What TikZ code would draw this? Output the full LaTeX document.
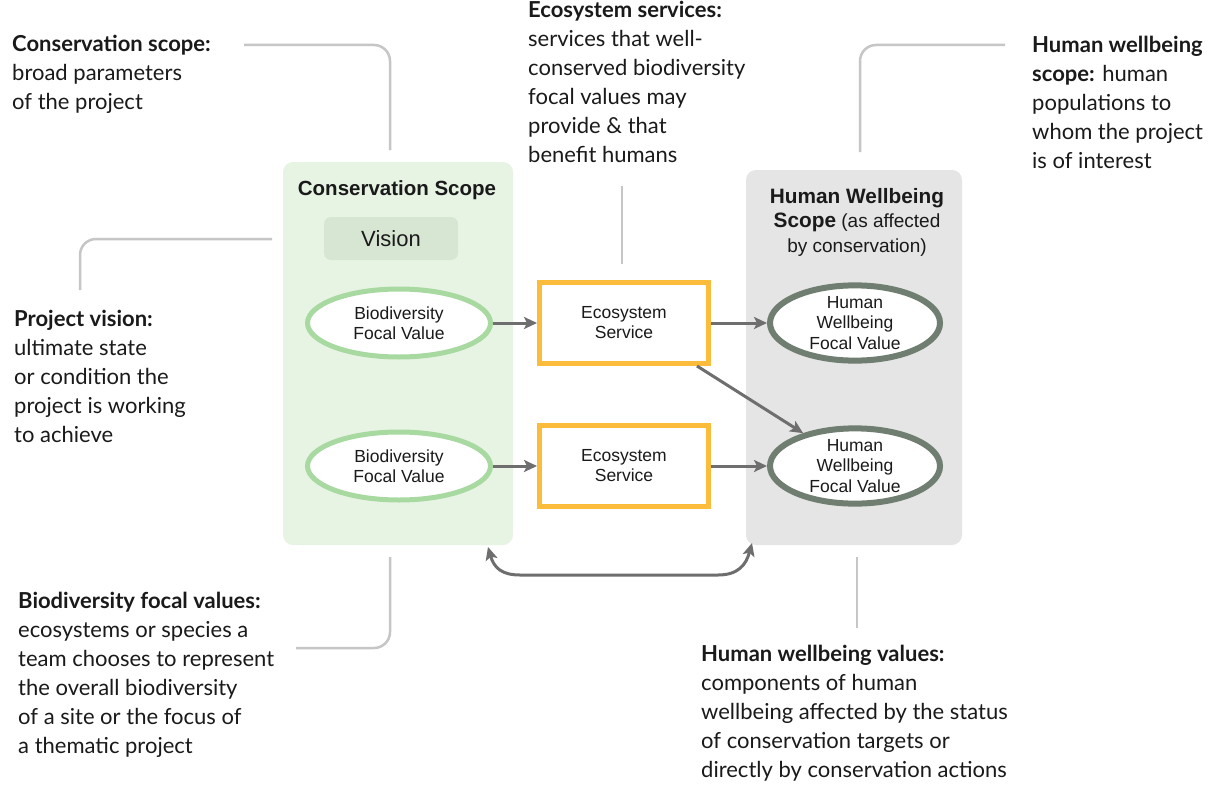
\documentclass[tikz,border=0pt]{standalone}
\usepackage{fontspec}
\setmainfont{Lato}
\newfontfamily\diagfont{Liberation Sans}
\usetikzlibrary{arrows.meta,shapes.geometric}

\definecolor{greenfill}{HTML}{E7F4E3}
\definecolor{visionfill}{HTML}{D7E6D3}
\definecolor{greenline}{HTML}{A8D9A1}
\definecolor{orangeline}{HTML}{FBBC3C}
\definecolor{hwline}{HTML}{6F7E70}
\definecolor{grayfill}{HTML}{E5E5E5}
\definecolor{arrowgray}{HTML}{6E6E6E}
\definecolor{leadergray}{HTML}{C6C6C6}
\definecolor{textdark}{HTML}{1A1A1A}

\begin{document}
\begin{tikzpicture}[x=1pt,y=-1pt,
  annot/.style={anchor=base west, inner sep=0pt, align=left, text=textdark,
    font=\fontsize{22}{29}\selectfont},
  leader/.style={draw=leadergray, line width=2.5pt, rounded corners=16pt},
  scopebox/.style={rounded corners=10pt, draw=none, inner sep=0pt},
  bfv/.style={ellipse, draw=greenline, line width=5pt, fill=white,
    minimum width=183pt, minimum height=68pt, inner sep=0pt, align=center,
    text=textdark, font=\diagfont\fontsize{17.5}{20}\selectfont},
  hwv/.style={ellipse, draw=hwline, line width=6pt, fill=white,
    minimum width=170pt, minimum height=75pt, inner sep=0pt, align=center,
    text=textdark, font=\diagfont\fontsize{17.5}{20.5}\selectfont},
  esbox/.style={rectangle, draw=orangeline, line width=5pt, fill=white,
    minimum width=169pt, minimum height=81pt, inner sep=0pt, align=center,
    text=textdark, font=\diagfont\fontsize{17.5}{20}\selectfont},
  arr/.style={draw=arrowgray, line width=3pt,
    -{Stealth[length=13pt,width=12pt,inset=3pt]}},
  darr/.style={draw=arrowgray, line width=3pt,
    {Stealth[length=13pt,width=12pt,inset=3pt]}-{Stealth[length=13pt,width=12pt,inset=3pt]}},
]
\useasboundingbox (0,0) rectangle (1222,789);
\fill[white] (0,0) rectangle (1222,789);

% scope boxes
\node[scopebox, fill=greenfill, minimum width=230pt, minimum height=383pt] (cscope) at (398,353.5) {};
\node[scopebox, fill=grayfill, minimum width=216pt, minimum height=375pt] (hscope) at (854,357.5) {};

\node[text=textdark, font=\diagfont\bfseries\fontsize{20.5}{22}\selectfont, inner sep=0pt] (ctitle) at (397,190) {Conservation Scope};
\node[scopebox, rounded corners=7pt, fill=visionfill, minimum width=134pt, minimum height=43pt,
  text=textdark, font=\diagfont\fontsize{22}{24}\selectfont] (vision) at (391,238.5) {Vision};

\node[text=textdark, align=center, inner sep=0pt, font=\diagfont\fontsize{19}{24.5}\selectfont] (htitle) at (857,222)
  {{\bfseries\fontsize{20.8}{24.5}\selectfont Human Wellbeing}\\{\bfseries\fontsize{20.8}{24.5}\selectfont Scope} (as affected\\by conservation)};

% value nodes
\node[bfv] (bf1) at (399,323) {Biodiversity\\Focal Value};
\node[bfv] (bf2) at (399,466) {Biodiversity\\Focal Value};
\node[esbox] (es1) at (624,323) {Ecosystem\\Service};
\node[esbox] (es2) at (624,466) {Ecosystem\\Service};
\node[hwv] (hw1) at (855,323) {Human\\Wellbeing\\Focal Value};
\node[hwv] (hw2) at (855,466) {Human\\Wellbeing\\Focal Value};

% arrows
\draw[arr] (bf1) -- (es1);
\draw[arr] (bf2) -- (es2);
\draw[arr] (es1) -- (hw1);
\draw[arr] (es2) -- (hw2);
\draw[arr] ([xshift=-14pt]es1.south east) -- (hw2);

\coordinate (bl) at (488,547);
\coordinate (br) at (752,543);
\draw[darr] (bl) .. controls (494,568) and (502,575) .. (520,575) -- (718,575) .. controls (738,575) and (746,565) .. (br);

% annotations (base anchor = baseline of last line)
\node[annot] (a1) at (12,110) {\textbf{Conservation scope:}\\broad parameters\\of the project};
\node[annot] (a2) at (528,162) {\textbf{Ecosystem services:}\\services that well-\\conserved biodiversity\\focal values may\\provide \& that\\benefit humans};
\node[annot] (a3) at (1032,168) {\textbf{Human wellbeing}\\\textbf{scope:} human\\populations to\\whom the project\\is of interest};
\node[annot] (a4) at (14,442) {\textbf{Project vision:}\\ultimate state\\or condition the\\project is working\\to achieve};
\node[annot] (a5) at (18,753) {\textbf{Biodiversity focal values:}\\ecosystems or species a\\team chooses to represent\\the overall biodiversity\\of a site or the focus of\\a thematic project};
\node[annot] (a6) at (701,777) {\textbf{Human wellbeing values:}\\components of human\\wellbeing affected by the status\\of conservation targets or\\directly by conservation actions};

% leader lines
\coordinate (l1s) at (244,45); \coordinate (l1e) at (390,150);
\draw[leader] (l1s) -- (390,45) -- (l1e);
\coordinate (l2s) at (622,186); \coordinate (l2e) at (622,264);
\draw[leader] (l2s) -- (l2e);
\coordinate (l3s) at (1005,45); \coordinate (l3e) at (860,152);
\draw[leader] (l3s) -- (860,45) -- (l3e);
\coordinate (l4s) at (272,239); \coordinate (l4e) at (80,290);
\draw[leader] (l4s) -- (80,239) -- (l4e);
\coordinate (l5s) at (390,557); \coordinate (l5e) at (296,648);
\draw[leader] (l5s) -- (390,648) -- (l5e);
\coordinate (l6s) at (857,557); \coordinate (l6e) at (857,628);
\draw[leader] (l6s) -- (l6e);
\end{tikzpicture}
\end{document}
